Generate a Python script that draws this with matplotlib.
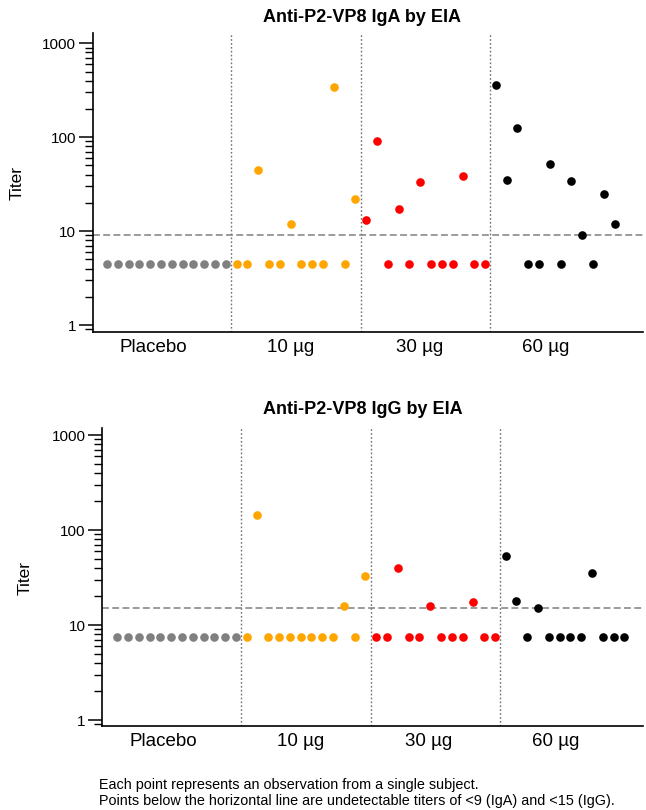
from __future__ import annotations

import matplotlib
matplotlib.use("Agg")
import matplotlib.pyplot as plt
from matplotlib.ticker import FixedLocator, LogLocator, NullFormatter


OUT_PATH = "out.png"
DPI = 100

# group labels / colours
GROUPS = ["Placebo", "10 µg", "30 µg", "60 µg"]
GROUP_COLORS = ["#808080", "#FFA500", "#FF0000", "#000000"]

# IgA titers, one value per subject, in plotting order (undetectable drawn at 4.5)
iga_placebo = [4.5, 4.5, 4.5, 4.5, 4.5, 4.5, 4.5, 4.5, 4.5, 4.5, 4.5, 4.5]
iga_10ug = [4.5, 4.5, 45, 4.5, 4.5, 12, 4.5, 4.5, 4.5, 340, 4.5, 22]
iga_30ug = [13, 92, 4.5, 17, 4.5, 33, 4.5, 4.5, 4.5, 39, 4.5, 4.5]
iga_60ug = [360, 35, 125, 4.5, 4.5, 52, 4.5, 34, 9.2, 4.5, 25, 12]
IGA_CUTOFF = 9

# IgG titers (undetectable drawn at 7.5)
igg_placebo = [7.5, 7.5, 7.5, 7.5, 7.5, 7.5, 7.5, 7.5, 7.5, 7.5, 7.5, 7.5]
igg_10ug = [7.5, 144, 7.5, 7.5, 7.5, 7.5, 7.5, 7.5, 7.5, 16, 7.5, 33]
igg_30ug = [7.5, 7.5, 40, 7.5, 7.5, 16, 7.5, 7.5, 7.5, 17.5, 7.5, 7.5]
igg_60ug = [53, 18, 7.5, 15.2, 7.5, 7.5, 7.5, 7.5, 35.5, 7.5, 7.5, 7.5]
IGG_CUTOFF = 15

FOOTNOTE = [
    "Each point represents an observation from a single subject.",
    "Points below the horizontal line are undetectable titers of <9 (IgA) and <15 (IgG).",
]

plt.rcParams.update(
    {
        "font.family": ["Liberation Sans", "DejaVu Sans"],
        "axes.spines.top": False,
        "axes.spines.right": False,
        "axes.linewidth": 1.2,
    }
)


def draw_panel(fig, ax, groups_values, cutoff, title, xlim, ylim, title_y, ylabel_xy):
    # subjects sit side by side, one slot each, groups in order
    idx = 0
    edges = []
    for vals, color in zip(groups_values, GROUP_COLORS):
        xs = list(range(idx, idx + len(vals)))
        ax.plot(xs, vals, linestyle="none", marker="o", markersize=6.2,
                color=color, markeredgewidth=0, zorder=3)
        idx += len(vals)
        edges.append(idx - 0.5)

    for e in edges[:-1]:
        ax.axvline(e, color="#707070", linestyle=(0, (1.2, 1.6)), linewidth=1.0, zorder=1)
    ax.axhline(cutoff, color="#808080", linestyle=(0, (4.5, 2.2)), linewidth=1.1, zorder=2)

    ax.set_yscale("log")
    ax.set_xlim(*xlim)
    ax.set_ylim(*ylim)

    ax.yaxis.set_major_locator(FixedLocator([1, 10, 100, 1000]))
    ax.yaxis.set_major_formatter(plt.FuncFormatter(lambda v, _p: f"{v:g}"))
    ax.yaxis.set_minor_locator(LogLocator(base=10, subs=range(2, 10)))
    ax.yaxis.set_minor_formatter(NullFormatter())
    ax.tick_params(axis="y", which="major", length=10, width=1.1, pad=2, labelsize=11)
    ax.tick_params(axis="y", which="minor", length=6, width=1.0)

    ax.set_xticks([4.3, 17.0, 28.9, 40.6])
    ax.set_xticklabels(GROUPS)
    ax.tick_params(axis="x", length=0, pad=5, labelsize=13.5)

    fig.text(ylabel_xy[0], ylabel_xy[1], "Titer", rotation=90,
             ha="center", va="center", fontsize=12.5)
    fig.text(0.561, title_y, title, ha="center", va="center",
             fontsize=13, fontweight="bold")


def main() -> None:
    fig = plt.figure(figsize=(6.46, 8.10), dpi=DPI)

    ax_top = fig.add_axes([0.144, 0.590, 0.851, 0.369])
    draw_panel(fig, ax_top, [iga_placebo, iga_10ug, iga_30ug, iga_60ug], IGA_CUTOFF,
               "Anti-P2-VP8 IgA by EIA", (-1.3, 49.6), (0.842, 1278), 0.979,
               (17 / 646, 1 - 183 / 810))

    ax_bot = fig.add_axes([0.158, 0.1037, 0.837, 0.3679])
    draw_panel(fig, ax_bot, [igg_placebo, igg_10ug, igg_30ug, igg_60ug], IGG_CUTOFF,
               "Anti-P2-VP8 IgG by EIA", (-1.4, 48.7), (0.865, 1185), 0.494,
               (25 / 646, 1 - 578 / 810))

    fig.text(0.153, 1 - 785 / 810, FOOTNOTE[0], ha="left", va="center", fontsize=10.4)
    fig.text(0.153, 1 - 801 / 810, FOOTNOTE[1], ha="left", va="center", fontsize=10.4)

    fig.savefig(OUT_PATH, dpi=DPI)
    plt.close(fig)


if __name__ == "__main__":
    main()
